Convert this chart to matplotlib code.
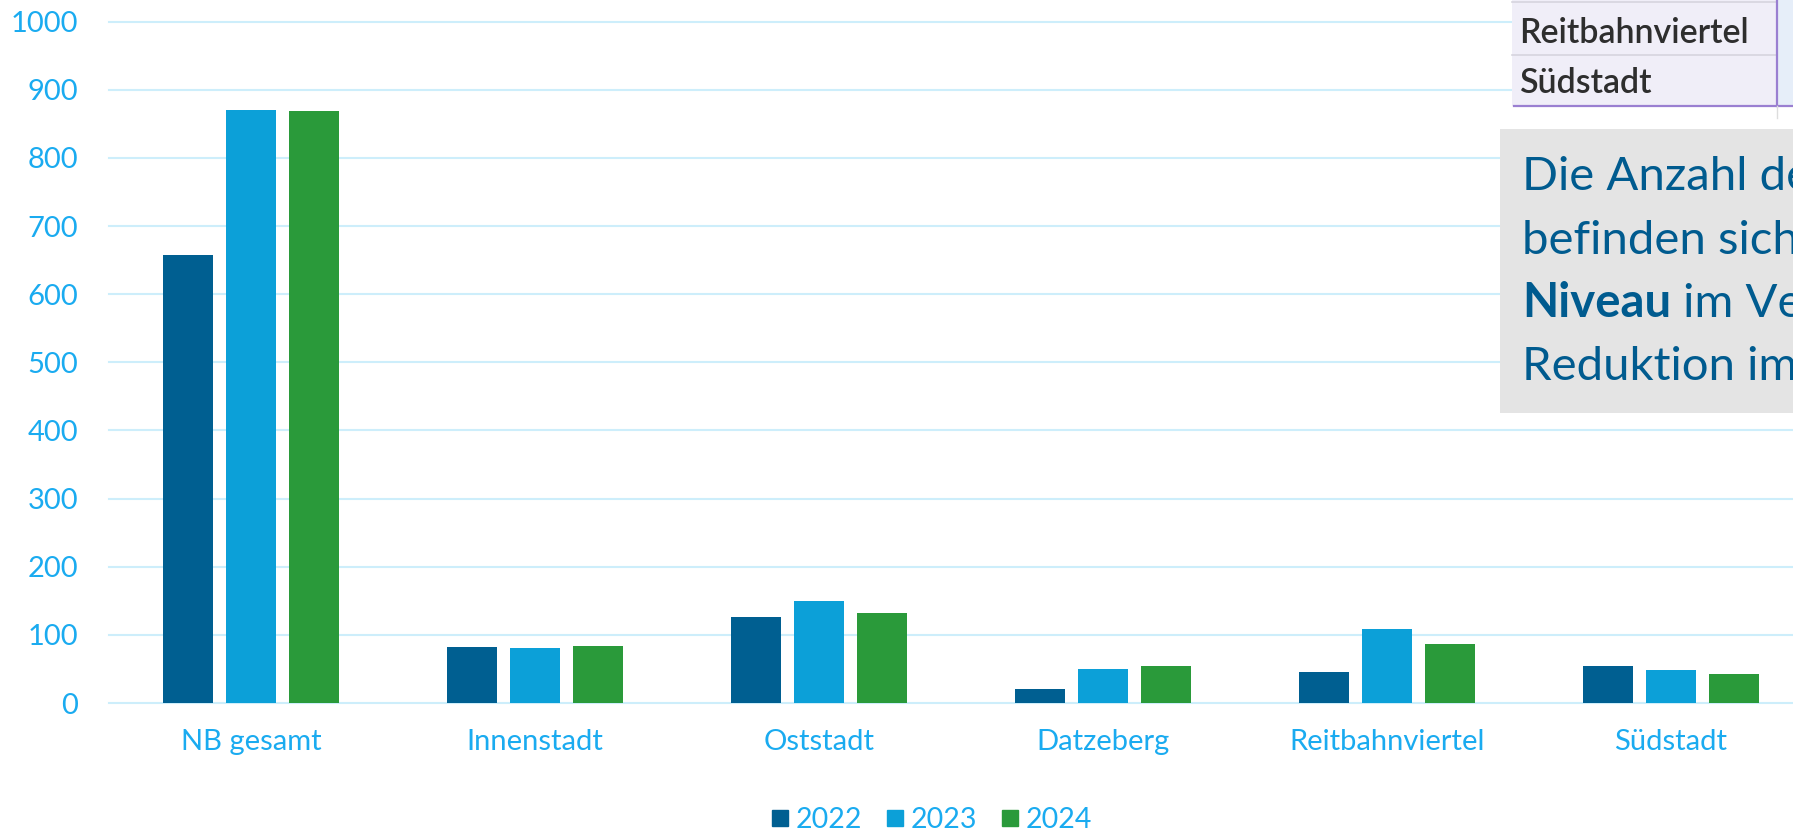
import numpy as np
import matplotlib.pyplot as plt
from matplotlib.patches import Rectangle
from matplotlib.lines import Line2D

# data
categories = ['NB gesamt', 'Innenstadt', 'Oststadt', 'Datzeberg', 'Reitbahnviertel', 'Südstadt']
years = ['2022', '2023', '2024']
v2022 = [658, 82, 126, 20, 45, 54]
v2023 = [871, 80, 149, 50, 109, 49]
v2024 = [869, 83, 132, 54, 87, 43]
yticks = list(range(0, 1001, 100))

colors = ['#005f91', '#0ca0d8', '#2a9a3a']
tick_col = '#1aabf0'
grid_col = '#cdeefb'

plt.rcParams['font.family'] = ['Lato', 'DejaVu Sans']

W, H = 1793, 830
fig = plt.figure(figsize=(W / 100, H / 100), dpi=100)
ax = fig.add_axes([109 / W, (H - 703) / H, 1 - 109 / W, (703 - 21.7) / H])

x = np.arange(len(categories))
pitch, bw = 0.222, 0.176
for i, vals in enumerate([v2022, v2023, v2024]):
    ax.bar(x + (i - 1) * pitch, vals, bw, color=colors[i], zorder=3)

ax.set_ylim(0, 1000)
ax.set_xlim(-0.5, 5.43)
ax.set_yticks(yticks)
ax.set_xticks(x)
ax.set_xticklabels(categories)
for y in yticks:
    ax.axhline(y, color=grid_col, lw=1.5, zorder=1, clip_on=False)
for s in ax.spines.values():
    s.set_visible(False)
ax.tick_params(axis='y', length=0, pad=22, labelsize=21, labelcolor=tick_col)
ax.tick_params(axis='x', length=0, pad=19, labelsize=21, labelcolor=tick_col)

# legend at the bottom (partly cut off)
handles = [Line2D([], [], ls='', marker='s', markersize=12, color=c) for c in colors]
fig.legend(handles, years, loc='center', bbox_to_anchor=(930 / W, (H - 820) / H),
           ncol=3, frameon=False, fontsize=20.5, labelcolor=tick_col,
           handletextpad=0.15, columnspacing=0.75, handlelength=0.8, borderpad=0)

# pasted table snippet, top right
def px_rect(x0, y0, x1, y1, **kw):
    fig.patches.append(Rectangle((x0 / W, 1 - y1 / H), (x1 - x0) / W, (y1 - y0) / H,
                                 transform=fig.transFigure, **kw))

px_rect(1512, 0, 1793, 118, facecolor='white', edgecolor='none')
px_rect(1512, 0, 1777, 106, facecolor='#f0eef8', edgecolor='none')
px_rect(1777, 0, 1793, 106, facecolor='#e6eef9', edgecolor='none')
for yy in [2, 55]:
    fig.add_artist(Line2D([1512 / W, 1777 / W], [1 - yy / H] * 2, color='#d6d4de', lw=1.2))
fig.add_artist(Line2D([1514 / W, 1793 / W], [1 - 106 / H] * 2, color='#9a7fd1', lw=1.6))
fig.add_artist(Line2D([1777 / W] * 2, [1 - 106 / H, 1], color='#9a7fd1', lw=1.6))
fig.add_artist(Line2D([1777 / W] * 2, [1 - 118 / H, 1 - 106 / H], color='#dddddd', lw=1))
fig.text(1519 / W, 1 - 43 / H, 'Reitbahnviertel', fontsize=24.5, color='#2e2e2e',
         va='baseline', fontweight='semibold')
fig.text(1519 / W, 1 - 93 / H, 'Südstadt', fontsize=24.5, color='#2e2e2e',
         va='baseline', fontweight='semibold')

# grey comment box
px_rect(1500, 129, 1793, 413, facecolor='#e4e4e4', edgecolor='none')
box_col = '#005b8f'
fs = 34
base = [190, 254, 317, 380]
fig.text(1522 / W, 1 - base[0] / H, 'Die Anzahl der', fontsize=fs, color=box_col, va='baseline')
fig.text(1522 / W, 1 - base[1] / H, 'befinden sich', fontsize=fs, color=box_col, va='baseline')
t = fig.text(1522 / W, 1 - base[2] / H, 'Niveau', fontsize=fs, color=box_col,
             va='baseline', fontweight='bold')
fig.canvas.draw()
bb = t.get_window_extent()
fig.text(bb.x1 / W, 1 - base[2] / H, ' im Vergleich', fontsize=fs, color=box_col, va='baseline')
fig.text(1522 / W, 1 - base[3] / H, 'Reduktion im', fontsize=fs, color=box_col, va='baseline')

fig.savefig('out.png', dpi=100)
